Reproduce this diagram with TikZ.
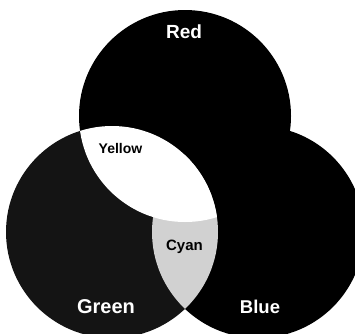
\documentclass[tikz,border=0pt]{standalone}
\usepackage{fontspec}
\setmainfont{Liberation Sans}
\definecolor{redfill}{gray}{0.0}
\definecolor{bluefill}{gray}{0.0}
\definecolor{greenfill}{gray}{0.08}
\definecolor{cyanfill}{gray}{0.82}
\definecolor{yellowfill}{gray}{1.0}
\begin{document}
\begin{tikzpicture}[x=1pt,y=-1pt,
  lbl/.style={font=\bfseries, anchor=base, inner sep=0pt},
  whitelbl/.style={lbl, text=white},
  darklbl/.style={lbl, text=black}]
\useasboundingbox (0,0) rectangle (355,333);
\clip (0,0) rectangle (355,333);
\coordinate (R) at (185,116);
\coordinate (G) at (112,232);
\coordinate (B) at (258,232);
\def\rad{106pt}
% single circles
\fill[greenfill] (G) circle[radius=\rad];
\fill[redfill] (R) circle[radius=\rad];
\fill[bluefill] (B) circle[radius=\rad];
% green & blue (cyan)
\begin{scope}
  \clip (G) circle[radius=\rad];
  \fill[cyanfill] (B) circle[radius=\rad];
\end{scope}
% red & green (yellow, incl. the triple part)
\begin{scope}
  \clip (R) circle[radius=\rad];
  \fill[yellowfill] (G) circle[radius=\rad];
\end{scope}
% labels
\node[whitelbl, font=\bfseries\fontsize{19}{19}\selectfont] (lred) at (184,38) {Red};
\node[darklbl, font=\bfseries\fontsize{14}{14}\selectfont] (lyellow) at (120.5,153) {Yellow};
\node[darklbl, font=\bfseries\fontsize{15}{15}\selectfont] (lcyan) at (184.5,250) {Cyan};
\node[whitelbl, font=\bfseries\fontsize{20}{20}\selectfont] (lgreen) at (106,313) {Green};
\node[whitelbl, font=\bfseries\fontsize{18.5}{18.5}\selectfont] (lblue) at (260,313) {Blue};
\end{tikzpicture}
\end{document}
